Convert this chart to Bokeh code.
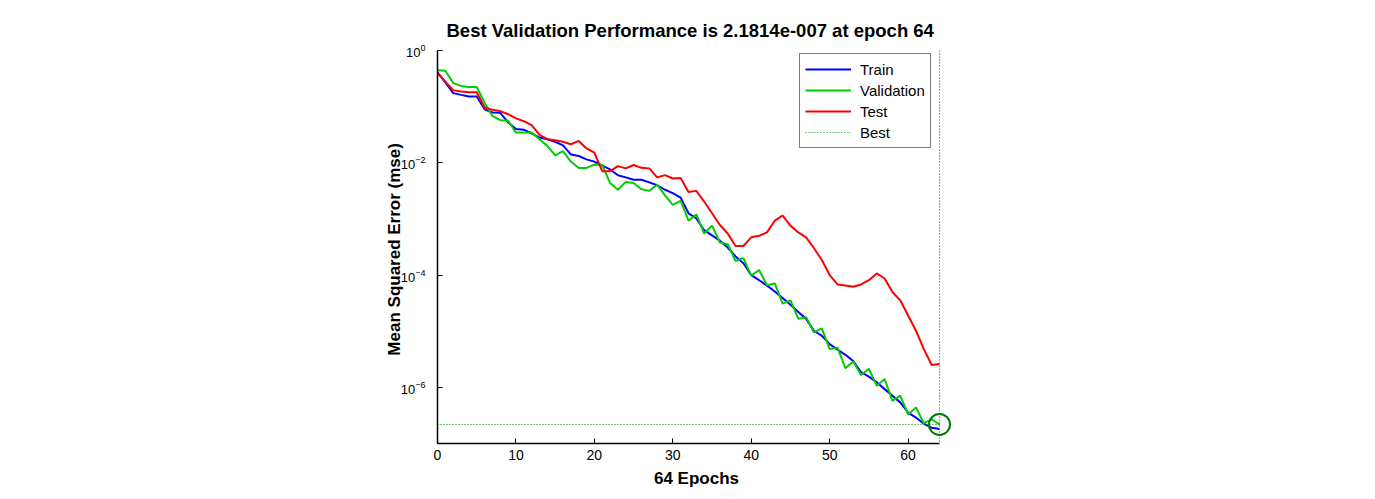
from bokeh.plotting import figure
from bokeh.models import Range1d, FixedTicker, Span, Legend, LegendItem, LogTickFormatter
from bokeh.embed import file_html
from bokeh.resources import INLINE

epochs = list(range(65))
train = [0.41, 0.27, 0.174, 0.162, 0.151, 0.151, 0.090, 0.0785, 0.0776, 0.0525,
         0.0398, 0.0389, 0.0335, 0.0282, 0.0263, 0.0237, 0.0204, 0.0141, 0.0132, 0.0115,
         0.0105, 0.0089, 0.0076, 0.0060, 0.0055, 0.0050, 0.0050, 0.00447, 0.00398, 0.00331,
         0.00288, 0.00240, 0.00126, 0.00102, 6.3e-4, 5.1e-4, 4.1e-4, 3.1e-4, 2.14e-4, 1.62e-4,
         1.0e-4, 8.1e-5, 6.5e-5, 5.1e-5, 3.9e-5, 2.95e-5, 2.19e-5, 1.66e-5, 1.02e-5, 8.3e-6,
         5.9e-6, 4.7e-6, 3.8e-6, 2.95e-6, 1.86e-6, 1.55e-6, 1.23e-6, 9.3e-7, 7.1e-7, 5.4e-7,
         3.55e-7, 2.9e-7, 2.25e-7, 1.9e-7, 1.82e-7]
validation = [0.447, 0.437, 0.263, 0.234, 0.224, 0.224, 0.117, 0.0684, 0.0575, 0.0562,
              0.0347, 0.0347, 0.0347, 0.0263, 0.0200, 0.0135, 0.0162, 0.0105, 0.0081, 0.0081,
              0.0093, 0.0091, 0.00437, 0.00331, 0.00457, 0.00437, 0.00339, 0.00316, 0.00407, 0.00263,
              0.00178, 0.00209, 9.3e-4, 1.2e-3, 5.5e-4, 7.6e-4, 3.8e-4, 3.55e-4, 1.78e-4, 2.0e-4,
              9.8e-5, 1.23e-4, 6.6e-5, 7.1e-5, 3.1e-5, 3.55e-5, 1.66e-5, 1.78e-5, 9.5e-6, 1.12e-5,
              4.8e-6, 5.1e-6, 2.19e-6, 2.88e-6, 1.66e-6, 2.14e-6, 1.07e-6, 1.41e-6, 5.75e-7, 7.1e-7,
              3.3e-7, 4.4e-7, 2.3e-7, 2.7e-7, 2.1814e-7]
test = [0.398, 0.279, 0.197, 0.186, 0.180, 0.180, 0.0966, 0.0877, 0.0832, 0.0733,
        0.0617, 0.0550, 0.0468, 0.0313, 0.0263, 0.0251, 0.0237, 0.0214, 0.0245, 0.0180,
        0.0151, 0.00708, 0.00708, 0.00871, 0.00794, 0.00912, 0.00813, 0.00794, 0.00550, 0.00603,
        0.00525, 0.00537, 0.00302, 0.00316, 0.00204, 0.00126, 7.8e-4, 5.5e-4, 3.3e-4, 3.3e-4,
        4.7e-4, 5.0e-4, 5.75e-4, 9.3e-4, 1.15e-3, 7.6e-4, 5.75e-4, 4.7e-4, 3.0e-4, 1.86e-4,
        1.0e-4, 6.8e-5, 6.5e-5, 6.2e-5, 6.8e-5, 8.1e-5, 1.07e-4, 8.7e-5, 5.0e-5, 3.55e-5,
        1.9e-5, 1.02e-5, 4.8e-6, 2.5e-6, 2.6e-6]
best_epoch = 64
best_value = 2.1814e-7
x_ticks = [0, 10, 20, 30, 40, 50, 60]
y_ticks = [1e-6, 1e-4, 1e-2, 1e0]
title_text = "Best Validation Performance is 2.1814e-007 at epoch 64"
x_label = "64 Epochs"
y_label = "Mean Squared Error  (mse)"
legend_labels = ["Train", "Validation", "Test", "Best"]

FONT = "Liberation Sans"
C_TRAIN = "#0000ff"
C_VAL = "#00cc00"
C_TEST = "#ff0000"
C_BEST = "#007a00"

# frame: x 0..64 spans 502 px; frame widened past 64 so the best-circle is not clipped
FRAME_W = 518
X_END = FRAME_W * best_epoch / 502.0

p = figure(width=1359, height=491, output_backend="svg", toolbar_location=None,
           y_axis_type="log", x_range=Range1d(0, X_END), y_range=Range1d(1e-7, 1),
           min_border_left=437, min_border_right=1359 - 437 - FRAME_W,
           min_border_top=50, min_border_bottom=48)
p.outline_line_color = None
p.xgrid.visible = False
p.ygrid.visible = False
p.background_fill_color = "white"
p.border_fill_color = "white"

p.title.text = title_text
p.title.align = "left"
p.title.offset = 9
p.title.text_font = FONT
p.title.text_font_size = "18.5px"
p.title.text_font_style = "bold"
p.title.text_color = "black"
p.title.standoff = 19

for ax in (p.xaxis[0], p.yaxis[0]):
    ax.axis_line_color = "black"
    ax.axis_line_width = 1.5
    ax.major_tick_line_color = "black"
    ax.major_tick_line_width = 1
    ax.major_tick_in = 5
    ax.major_tick_out = 0
    ax.minor_tick_line_color = None
    ax.major_label_text_font = FONT
    ax.major_label_text_font_size = "14px"
    ax.major_label_text_color = "black"
    ax.axis_label_text_font = FONT
    ax.axis_label_text_font_size = "17px"
    ax.axis_label_text_font_style = "bold"
    ax.axis_label_text_color = "black"

p.xaxis.ticker = FixedTicker(ticks=x_ticks)
p.xaxis.bounds = (0, best_epoch)
p.xaxis.axis_label = x_label
p.xaxis.major_label_standoff = 6
p.xaxis.axis_label_standoff = 6

p.yaxis.ticker = FixedTicker(ticks=y_ticks, minor_ticks=[])
p.yaxis.formatter = LogTickFormatter()
p.yaxis.axis_label = y_label
p.yaxis.major_label_text_font_size = "13px"
p.yaxis.major_label_standoff = 12
p.yaxis.axis_label_standoff = -6

r_train = p.line(epochs, train, line_color=C_TRAIN, line_width=2)
r_val = p.line(epochs, validation, line_color=C_VAL, line_width=2)
r_test = p.line(epochs, test, line_color=C_TEST, line_width=2)
r_best = p.line([epochs[0], best_epoch], [best_value, best_value], line_color=C_BEST,
                line_width=1.2, line_dash="1 2")
p.add_layout(Span(location=best_epoch, dimension="height", line_color=C_BEST,
                  line_width=1.2, line_dash="1 2"))
p.scatter([best_epoch], [best_value], marker="circle", size=21, fill_color=None,
          line_color=C_BEST, line_width=2)

legend = Legend(items=[LegendItem(label=legend_labels[0], renderers=[r_train]),
                       LegendItem(label=legend_labels[1], renderers=[r_val]),
                       LegendItem(label=legend_labels[2], renderers=[r_test]),
                       LegendItem(label=legend_labels[3], renderers=[r_best])],
                location=(362, 295))
legend.margin = 0
legend.padding = 5
legend.spacing = 1
legend.label_height = 20
legend.glyph_height = 20
legend.glyph_width = 46
legend.label_standoff = 9
legend.label_text_font = FONT
legend.label_text_font_size = "15px"
legend.label_text_color = "black"
legend.border_line_color = "black"
legend.border_line_width = 1.5
legend.background_fill_color = "white"
legend.background_fill_alpha = 1
p.add_layout(legend, "center")

open("out.html", "w").write(file_html(p, INLINE))
